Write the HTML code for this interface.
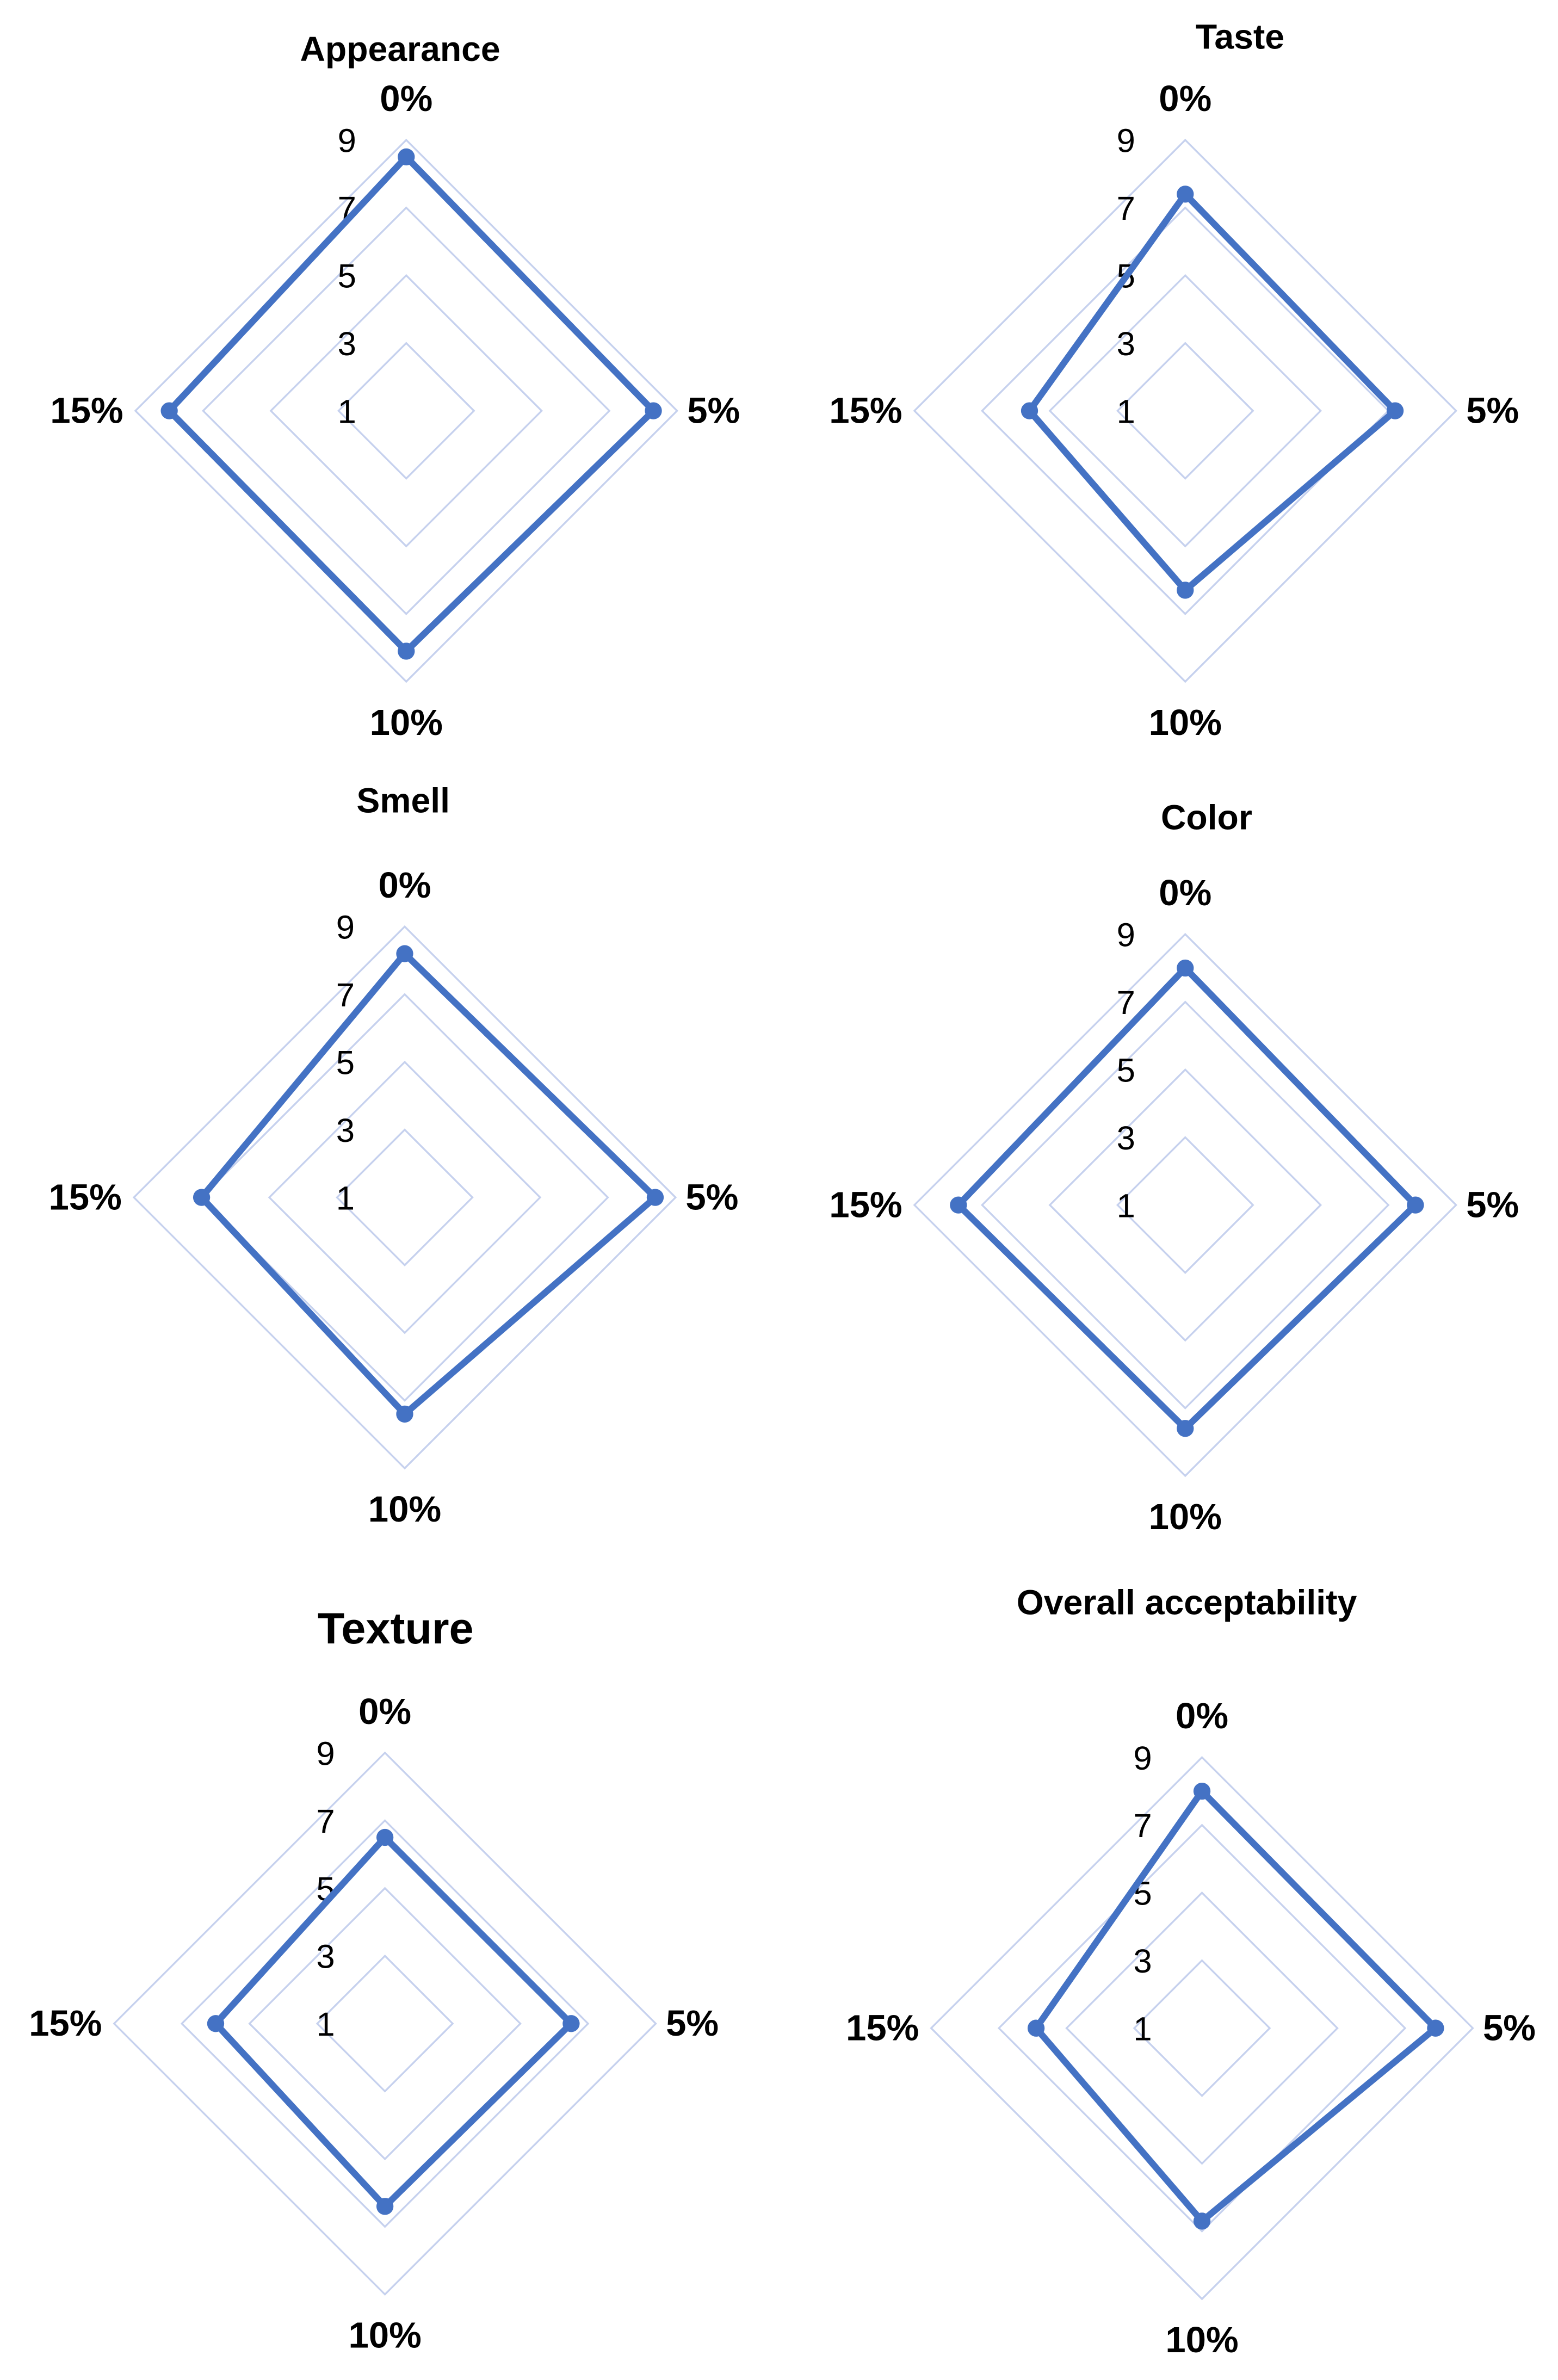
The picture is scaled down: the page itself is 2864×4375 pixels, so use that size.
<!DOCTYPE html>
<html><head><meta charset="utf-8"><style>
html,body{margin:0;padding:0;background:#fff;}
svg{display:block;}
text{font-family:"Liberation Sans","DejaVu Sans",sans-serif;fill:#000;}
</style></head><body>
<svg id="chart" xmlns="http://www.w3.org/2000/svg" width="2864" height="4375" viewBox="0 0 1024 1564.25"></svg>
<script>
const categories = ["0%", "5%", "10%", "15%"];
const tickLabels = [1, 3, 5, 7, 9];
const titles = ["Appearance", "Taste", "Smell", "Color", "Texture", "Overall acceptability"];
const appearanceValues = [8.5, 8.3, 8.1, 8.0];
const tasteValues = [7.4, 7.2, 6.3, 5.6];
const smellValues = [8.2, 8.4, 7.4, 7.0];
const colorValues = [8.0, 7.8, 7.6, 7.7];
const textureValues = [6.5, 6.5, 6.4, 6.0];
const overallValues = [8.0, 7.9, 6.7, 5.9];

const seriesList = [appearanceValues, tasteValues, smellValues, colorValues, textureValues, overallValues];
const layouts = [
 {cx:267, cy:270, R:178, ty:32, ts:23, tx:263},
 {cx:779, cy:270, R:178, ty:24, ts:23, tx:815},
 {cx:266, cy:787, R:178, ty:526, ts:23, tx:265},
 {cx:779, cy:792, R:178, ty:537, ts:23, tx:793},
 {cx:253, cy:1330, R:178, ty:1070, ts:29, tx:260},
 {cx:790, cy:1333, R:178, ty:1053, ts:23, tx:780}
];
const NS = "http://www.w3.org/2000/svg";
const svg = document.getElementById("chart");
function mk(tag, attrs, parent){const e=document.createElementNS(NS,tag);for(const k in attrs)e.setAttribute(k,attrs[k]);parent.appendChild(e);return e;}
const vmin = 1, vmax = 9;
function rScale(v, R){return (v - vmin) / (vmax - vmin) * R;}
function pt(i, r, L){const a = -Math.PI/2 + i*Math.PI/2; return [L.cx + r*Math.cos(a), L.cy + r*Math.sin(a)];}

seriesList.forEach((vals, c) => {
  const L = layouts[c];
  const g = mk("g", {}, svg);
  
  
  const t = mk("text", {x:L.tx, y:L.ty + L.ts*0.35, "text-anchor":"middle", "font-size":L.ts, "font-weight":"bold"}, g);
  t.textContent = titles[c];
  
  
  tickLabels.forEach((tv) => {
    if (tv === vmin) return;
    const r = rScale(tv, L.R);
    const pts = [0,1,2,3].map(i => pt(i, r, L).join(",")).join(" ");
    const ring = mk("polygon", {points:pts, fill:"none", stroke:"#c6d1ee", "stroke-width":1.2}, g);
    
    
  });
  tickLabels.forEach(tv => {
    const r = rScale(tv, L.R);
    const tl = mk("text", {x:L.cx - 39, y:L.cy - r + 8, "text-anchor":"middle", "font-size":22}, g);
    tl.textContent = tv;
    
    
  });
  const off = [[0,-205+8],[202,8],[0,205+8],[-210,8]];
  categories.forEach((cat, i) => {
    const cl = mk("text", {x:L.cx + off[i][0], y:L.cy + off[i][1], "text-anchor":"middle", "font-size":24, "font-weight":"bold"}, g);
    cl.textContent = cat;
    
    
  });
  const pts = vals.map((v, i) => pt(i, rScale(v, L.R), L));
  const poly = mk("polygon", {points:pts.map(p=>p.join(",")).join(" "), fill:"none", stroke:"#4472c4", "stroke-width":4.3, "stroke-linejoin":"round"}, g);
  
  
  pts.forEach(p => {
    const m = mk("circle", {cx:p[0], cy:p[1], r:5.6, fill:"#4472c4"}, g);
    
    
  });
});
</script>
</body></html>
